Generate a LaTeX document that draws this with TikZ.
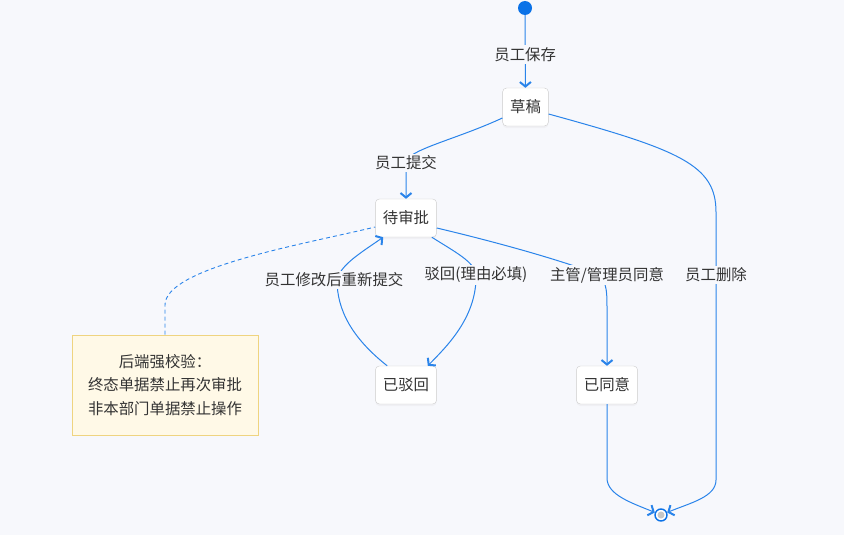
\documentclass[tikz,border=0pt]{standalone}
\usepackage{fontspec}
\setmainfont{Noto Sans CJK SC}
\usetikzlibrary{arrows.meta,shadows}

\definecolor{bgcol}{HTML}{F7F8FC}
\definecolor{flowblue}{HTML}{2A84EA}
\definecolor{startblue}{HTML}{0B72E7}
\definecolor{txtgray}{HTML}{333333}
\definecolor{notefill}{HTML}{FFF9E7}
\definecolor{noteline}{HTML}{EFD480}

\begin{document}
\begin{tikzpicture}[x=1pt,y=-1pt,
  font=\fontsize{15.4}{23.5}\selectfont, text=txtgray,
  state/.style={draw=black!20, fill=white, rounded corners=4pt, minimum height=38pt,
    inner xsep=7.5pt, drop shadow={opacity=0.06, shadow xshift=0pt, shadow yshift=-2pt}},
  lbl/.style={fill=bgcol, inner sep=2pt},
  flow/.style={draw=flowblue, line width=1pt, -{Straight Barb[length=4.5pt,width=11pt,line width=2pt]}},
  notebox/.style={draw=noteline, fill=notefill, line width=0.9pt, minimum width=186pt,
    minimum height=100pt, align=center}]
\fill[bgcol] (0,0) rectangle (844,535);
\useasboundingbox (0,0) rectangle (844,535);

\node[circle, fill=startblue, inner sep=0pt, minimum size=14pt] (start) at (525,8) {};
\node[state] (draft) at (525.5,107) {草稿};
\node[state] (pending) at (406,218) {待审批};
\node[state] (rejected) at (406,385) {已驳回};
\node[state] (approved) at (607,385) {已同意};
\node[circle, draw=startblue, line width=1.4pt, fill=white, inner sep=0pt, minimum size=12pt] (endc) at (661,515) {};
\fill[black!22] (endc) circle (3.5pt);
\node[notebox] (note) at (165,385) {后端强校验：\\终态单据禁止再次审批\\非本部门单据禁止操作};

% transitions
\draw[flow] (start) -- node[lbl, pos=0.54] {员工保存} (draft);
\draw[flow] ([yshift=-11pt]draft.west) .. controls (455,140) and (406,150) .. (406,163)
  node[lbl] {员工提交} .. controls (406,178) and (406,185) .. (pending.north);
\draw[flow] ([yshift=-7pt]draft.east) .. controls (680,150) and (716,165) .. (716,212)
  -- (716,275) node[lbl] {员工删除} -- (716,480) .. controls (716,497) and (690,503) .. (endc);
\draw[flow] ([xshift=-5pt]pending.south east) .. controls (455,252) and (475,262) .. (476,275)
  node[lbl] {驳回(理由必填)} .. controls (477,318) and (445,348) .. ([xshift=-9pt]rejected.north east);
\draw[flow] ([xshift=12pt]rejected.north west) .. controls (352,338) and (337,310) .. (337,280)
  node[lbl, xshift=-3pt] {员工修改后重新提交} .. controls (340,265) and (362,252) .. ([xshift=8pt]pending.south west);
\draw[flow] ([yshift=-10pt]pending.east) .. controls (500,243) and (560,260) .. (600,275)
  node[lbl, xshift=7pt] {主管/管理员同意} .. controls (607,285) and (607,292) .. (607,310) -- (approved.north);
\draw[flow] (approved.south) -- (607,478) .. controls (607,495) and (632,503) .. (endc);

% note link
\draw[flowblue, line width=0.9pt, dash pattern=on 4pt off 3pt] (note.north) -- (165,305)
  .. controls (165,268) and (300,245) .. ([yshift=-9pt]pending.west);
\end{tikzpicture}
\end{document}
